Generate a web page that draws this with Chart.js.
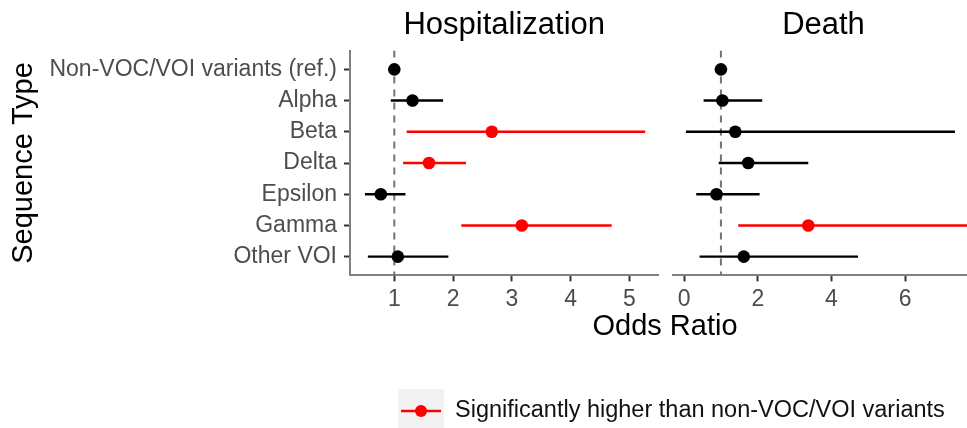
<!DOCTYPE html>
<html>
<head>
<meta charset="utf-8">
<script src="https://cdn.jsdelivr.net/npm/chart.js@4.4.1/dist/chart.umd.min.js"></script>
<style>
  html, body { margin: 0; padding: 0; background: #fff; }
  #wrap { position: relative; width: 967px; height: 428px; overflow: hidden; background: #fff; }
  #wrap canvas { position: absolute; top: 0; }
  #hospChart { left: 0; }
  #deathChart { left: 667px; }
</style>
</head>
<body>
<div id="wrap">
  <canvas id="hospChart" width="967" height="428"></canvas>
  <canvas id="deathChart" width="313" height="428"></canvas>
</div>
<script>
const variants = ['Non-VOC/VOI variants (ref.)', 'Alpha', 'Beta', 'Delta', 'Epsilon', 'Gamma', 'Other VOI'];

// odds ratios with 95% CI, hospitalization
const hospOR  = [1, 1.31, 2.66, 1.59, 0.77, 3.17, 1.06];
const hospLo  = [1, 0.94, 1.21, 1.15, 0.50, 2.14, 0.55];
const hospHi  = [1, 1.83, 5.27, 2.22, 1.19, 4.70, 1.92];
const hospSig = [false, false, true, true, false, true, false];

// odds ratios with 95% CI, death
const deathOR  = [1, 1.04, 1.39, 1.74, 0.88, 3.37, 1.62];
const deathLo  = [1, 0.53, 0.05, 0.94, 0.33, 1.47, 0.42];
const deathHi  = [1, 2.12, 7.35, 3.37, 2.05, 8.50, 4.72];
const deathSig = [false, false, false, false, false, true, false];

const hospTicks = [1, 2, 3, 4, 5];
const deathTicks = [0, 2, 4, 6];
const refOR = 1;

const FONT = '"Liberation Sans", Arial, Helvetica, sans-serif';
const RED = '#ff0000';
const BLACK = '#000000';
const TICK_TEXT = '#4d4d4d';

// facet geometry (px)
const PANEL_TOP = 50.6;
const PANEL_BOTTOM = 275.4;
const HOSP_LEFT = 350, HOSP_RIGHT = 658.5;
const DEATH_CANVAS_LEFT = 667, DEATH_LEFT = 673, DEATH_RIGHT = 980;
const H = 428;

function panelDatasets(or, lo, hi, sig) {
  const sets = [];
  sets.push({
    data: or.map((v, i) => ({ x: v, y: i })),
    pointRadius: 6.3,
    pointBackgroundColor: sig.map(s => s ? RED : BLACK),
    pointBorderColor: sig.map(s => s ? RED : BLACK),
    pointBorderWidth: 0,
    showLine: false,
    order: 0
  });
  lo.forEach((l, i) => {
    sets.push({
      data: [{ x: l, y: i }, { x: hi[i], y: i }],
      showLine: true,
      borderColor: sig[i] ? RED : BLACK,
      borderWidth: 2.4,
      pointRadius: 0,
      order: 1
    });
  });
  sets.push({
    data: [{ x: refOR, y: -0.6 }, { x: refOR, y: variants.length - 0.4 }],
    showLine: true,
    borderColor: '#737373',
    borderWidth: 2,
    borderDash: [7, 6],
    pointRadius: 0,
    order: 2
  });
  return sets;
}

function yScale(show) {
  return {
    type: 'linear',
    reverse: true,
    min: -0.6,
    max: variants.length - 0.4,
    display: show,
    afterBuildTicks: s => { s.ticks = variants.map((_, i) => ({ value: i })); },
    afterFit: s => { if (show) s.width = HOSP_LEFT; },
    ticks: {
      callback: v => variants[v],
      autoSkip: false,
      font: { family: FONT, size: 23 },
      color: TICK_TEXT,
      padding: 7
    },
    grid: { drawOnChartArea: false, tickLength: 6, tickWidth: 2, tickColor: '#333333' },
    border: { display: true, color: '#808080', width: 2 },
    title: {
      display: show,
      text: 'Sequence Type',
      color: BLACK,
      font: { family: FONT, size: 29 },
      padding: { top: 7, bottom: 0 }
    }
  };
}

function xScale(min, max, ticks) {
  return {
    type: 'linear',
    min: min,
    max: max,
    afterBuildTicks: s => { s.ticks = ticks.map(v => ({ value: v })); },
    afterFit: s => { s.height = H - PANEL_BOTTOM; },
    ticks: { font: { family: FONT, size: 23 }, color: TICK_TEXT, padding: 4, maxRotation: 0 },
    grid: { drawOnChartArea: false, tickLength: 6, tickWidth: 2, tickColor: '#333333' },
    border: { display: true, color: '#808080', width: 2 }
  };
}

function panelTitle(text) {
  return {
    display: true,
    text: text,
    fullSize: false,
    color: BLACK,
    font: { family: FONT, size: 31, weight: 'normal' },
    padding: { top: 7, bottom: PANEL_TOP - 7 - 31 * 1.2 }
  };
}

// shared axis title and the legend, drawn once across both facets
const figureText = {
  id: 'figureText',
  afterDraw(chart) {
    const ctx = chart.ctx;
    ctx.save();
    ctx.fillStyle = BLACK;
    ctx.textAlign = 'center';
    ctx.textBaseline = 'middle';
    ctx.font = '29px ' + FONT;
    ctx.fillText('Odds Ratio', (HOSP_LEFT + DEATH_RIGHT) / 2, 327);

    // legend key
    ctx.fillStyle = '#f2f2f2';
    ctx.fillRect(398, 389, 46, 40);
    ctx.strokeStyle = RED;
    ctx.lineWidth = 2.4;
    ctx.beginPath();
    ctx.moveTo(401, 411);
    ctx.lineTo(441, 411);
    ctx.stroke();
    ctx.fillStyle = RED;
    ctx.beginPath();
    ctx.arc(421, 411, 6, 0, Math.PI * 2);
    ctx.fill();

    ctx.fillStyle = '#111111';
    ctx.textAlign = 'left';
    ctx.font = '23.5px ' + FONT;
    ctx.fillText('Significantly higher than non-VOC/VOI variants', 455, 411);
    ctx.restore();
  }
};

const common = {
  responsive: false,
  animation: false,
  events: [],
  plugins: { legend: { display: false }, tooltip: { enabled: false } }
};

new Chart(document.getElementById('hospChart'), {
  type: 'scatter',
  data: { datasets: panelDatasets(hospOR, hospLo, hospHi, hospSig) },
  options: {
    ...common,
    layout: { padding: { left: 0, right: 967 - HOSP_RIGHT, top: 0, bottom: 0 } },
    scales: {
      // 1 sits at x = 394.3, 58.75 px per unit
      x: xScale(1 + (HOSP_LEFT - 394.3) / 58.75, 1 + (HOSP_RIGHT - 394.3) / 58.75, hospTicks),
      y: yScale(true)
    },
    plugins: { ...common.plugins, title: panelTitle('Hospitalization') }
  },
  plugins: [figureText]
});

new Chart(document.getElementById('deathChart'), {
  type: 'scatter',
  data: { datasets: panelDatasets(deathOR, deathLo, deathHi, deathSig) },
  options: {
    ...common,
    layout: { padding: { left: DEATH_LEFT - DEATH_CANVAS_LEFT, right: 0, top: 0, bottom: 0 } },
    scales: {
      x: xScale(-0.292, 7.858, deathTicks),
      y: yScale(false)
    },
    plugins: { ...common.plugins, title: panelTitle('Death') }
  }
});
</script>
</body>
</html>
